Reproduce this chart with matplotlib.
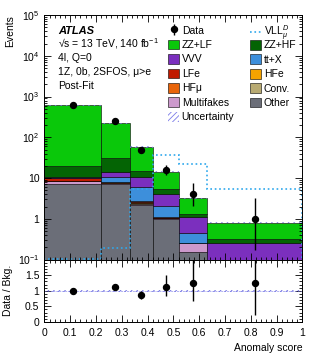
import numpy as np
import matplotlib
matplotlib.use('Agg')
import matplotlib.pyplot as plt
from matplotlib.ticker import FixedLocator, MultipleLocator, LogLocator, NullFormatter, FuncFormatter

plt.rcParams['font.family'] = ['Liberation Sans', 'DejaVu Sans']
plt.rcParams['mathtext.fontset'] = 'custom'
plt.rcParams['mathtext.rm'] = 'Liberation Sans'
plt.rcParams['mathtext.it'] = 'Liberation Sans:italic'
plt.rcParams['mathtext.bf'] = 'Liberation Sans:bold'
plt.rcParams['font.size'] = 7.5
plt.rcParams['hatch.linewidth'] = 0.6

# binning and yields
edges = [0, 0.22, 0.33, 0.42, 0.52, 0.63, 1.0]
other = [7.0, 7.25, 2.14, 1.0, 0.15, 0.02]
multifakes = [1.3, 0.3, 0.2, 0.02, 0.11, 0.0]
conv = [0.05, 0.05, 0.05, 0.0, 0.0, 0.0]
hfe = [0.05, 0.05, 0.05, 0.0, 0.0, 0.0]
hfmu = [0.3, 0.2, 0.2, 0.02, 0.0, 0.0]
lfe = [1.1, 0.25, 0.1, 0.06, 0.0, 0.0]
ttx = [0.05, 2.7, 3.4, 1.0, 0.18, 0.0]
vvv = [1.0, 3.6, 4.3, 2.0, 0.66, 0.24]
zzhf = [8.4, 16.4, 4.9, 1.4, 0.23, 0.06]
zzlf = [593, 191, 42.5, 8.9, 1.85, 0.48]
data = [610, 249, 50, 16, 4, 1]
data_lo = [25, 16, 7, 4, 1.9, 0.83]
data_hi = [25, 16, 8, 5.5, 3.6, 2.3]
vll = [0.106, 0.19, 5.5, 36, 22.6, 5.5]
unc_rel = [0.03, 0.03, 0.035, 0.035, 0.04, 0.04]

stack = [
    ('Other', other, '#6b6e78'),
    ('Multifakes', multifakes, '#cc99cc'),
    ('Conv.', conv, '#b8aa72'),
    ('HFe', hfe, '#f5a300'),
    ('HFμ', hfmu, '#e8640a'),
    ('LFe', lfe, '#c01a00'),
    ('tt+X', ttx, '#3d8fdb'),
    ('VVV', vvv, '#7b2fbe'),
    ('ZZ+HF', zzhf, '#046404'),
    ('ZZ+LF', zzlf, '#0ac80a'),
]

edges = np.array(edges)
left = edges[:-1]
width = np.diff(edges)
centers = left + width / 2

fig = plt.figure(figsize=(3.19, 3.6), dpi=100)
ax = fig.add_axes([0.139, 0.279, 0.809, 0.679])
rax = fig.add_axes([0.139, 0.1056, 0.809, 0.1734], sharex=ax)

handles = {}
bottom = np.full(len(left), 1e-3)
for name, vals, col in stack:
    vals = np.array(vals)
    h = ax.bar(left, vals, width=width, bottom=bottom, align='edge', color=col,
               edgecolor='k', linewidth=0.4, label=name)
    handles[name] = h
    bottom = bottom + vals
total = bottom - 1e-3

unc = total * np.array(unc_rel)
hu = ax.fill_between(edges, np.append(total - unc, total[-1] - unc[-1]),
                     np.append(total + unc, total[-1] + unc[-1]), step='post',
                     facecolor='none', edgecolor='#7a7ae8', hatch='//////', linewidth=0)
handles['Uncertainty'] = hu

ax.stairs(vll, edges, color='#2fa8ec', linestyle=':', linewidth=1.2)
handles['VLL'] = ax.plot([], [], color='#2fa8ec', linestyle=':', linewidth=1.2)[0]

hd = ax.errorbar(centers, data, yerr=[data_lo, data_hi], fmt='o', color='k',
                 markersize=4.3, elinewidth=1.0, capsize=0)
handles['Data'] = hd

ax.set_yscale('log')
ax.set_ylim(0.1, 1e5)
ax.set_xlim(0, 1)


def log_fmt(v, pos):
    e = int(round(np.log10(v)))
    if e == 0:
        return '1'
    if e == 1:
        return '10'
    return r'$10^{%d}$' % e


ax.yaxis.set_major_locator(LogLocator(base=10, numticks=10))
ax.yaxis.set_major_formatter(FuncFormatter(log_fmt))
ax.yaxis.set_minor_locator(LogLocator(base=10, subs=np.arange(2, 10), numticks=20))
ax.yaxis.set_minor_formatter(NullFormatter())
ax.set_ylabel('Events', loc='top', fontsize=7.5)

for a in (ax, rax):
    a.xaxis.set_major_locator(MultipleLocator(0.1))
    a.xaxis.set_minor_locator(MultipleLocator(0.02))
    a.tick_params(which='both', direction='in', top=True, right=True, labelsize=7.5)
    a.tick_params(which='major', length=5, width=0.6)
    a.tick_params(which='minor', length=2.5, width=0.6)
    for s in a.spines.values():
        s.set_linewidth(0.7)
ax.tick_params(labelbottom=False)

# ratio panel
ratio = np.array(data) / total
r_lo = np.array(data_lo) / total
r_hi = np.array(data_hi) / total
rel = np.array(unc_rel)
rax.fill_between(edges, np.append(1 - rel, 1 - rel[-1]), np.append(1 + rel, 1 + rel[-1]),
                 step='post', facecolor='none', edgecolor='#6a6ae0', hatch='//////', linewidth=0)
rax.axhline(1, color='#7a7ae8', linewidth=0.4, linestyle='--')
rax.errorbar(centers, ratio, yerr=[r_lo, r_hi], fmt='o', color='k',
             markersize=4.3, elinewidth=1.0, capsize=0)
rax.set_ylim(0, 2)
rax.yaxis.set_major_locator(FixedLocator([0, 0.5, 1, 1.5]))
rax.yaxis.set_major_formatter(FuncFormatter(lambda v, p: '%g' % v))
rax.yaxis.set_minor_locator(MultipleLocator(0.1))
rax.set_xticks(np.arange(0, 1.01, 0.1))
rax.xaxis.set_major_formatter(FuncFormatter(lambda v, p: '%g' % round(v, 1)))
rax.tick_params(axis='x', pad=4)
rax.set_xlabel('Anomaly score', loc='right', fontsize=7.5)
rax.set_ylabel('Data / Bkg.', fontsize=7.5)
rax.yaxis.set_label_coords(-0.12, 0.5)
ax.yaxis.set_label_coords(-0.115, 1.0)

# labels
fig.text(0.182, 0.914, 'ATLAS', fontsize=8, fontweight='bold', style='italic', va='center')
lines = [r'√s = 13 TeV, 140 fb$^{-1}$', '4l, Q=0',
         '1Z, 0b, 2SFOS, μ>e', 'Post-Fit']
for i, t in enumerate(lines):
    fig.text(0.182, 0.879 - i * 0.0397, t, fontsize=7.5, va='center')

leg_kw = dict(frameon=False, fontsize=7.5, borderpad=0, borderaxespad=0,
              handlelength=1.05, handleheight=1.05, handletextpad=0.25,
              labelspacing=0.39)
col1 = ['Data', 'ZZ+LF', 'VVV', 'LFe', 'HFμ', 'Multifakes', 'Uncertainty']
col2 = ['ZZ+HF', 'tt+X', 'HFe', 'Conv.', 'Other']
l1 = fig.legend([handles[k] for k in col1], col1, loc='upper left',
                bbox_to_anchor=(0.527, 0.930), **leg_kw)
l2 = fig.legend([handles['VLL']], [r'VLL$_{\mu}^{D}$'], loc='center left',
                bbox_to_anchor=(0.784, 0.907), **leg_kw)
l3 = fig.legend([handles[k] for k in col2], col2, loc='upper left',
                bbox_to_anchor=(0.784, 0.889), **leg_kw)

fig.savefig('out.png', dpi=100)
